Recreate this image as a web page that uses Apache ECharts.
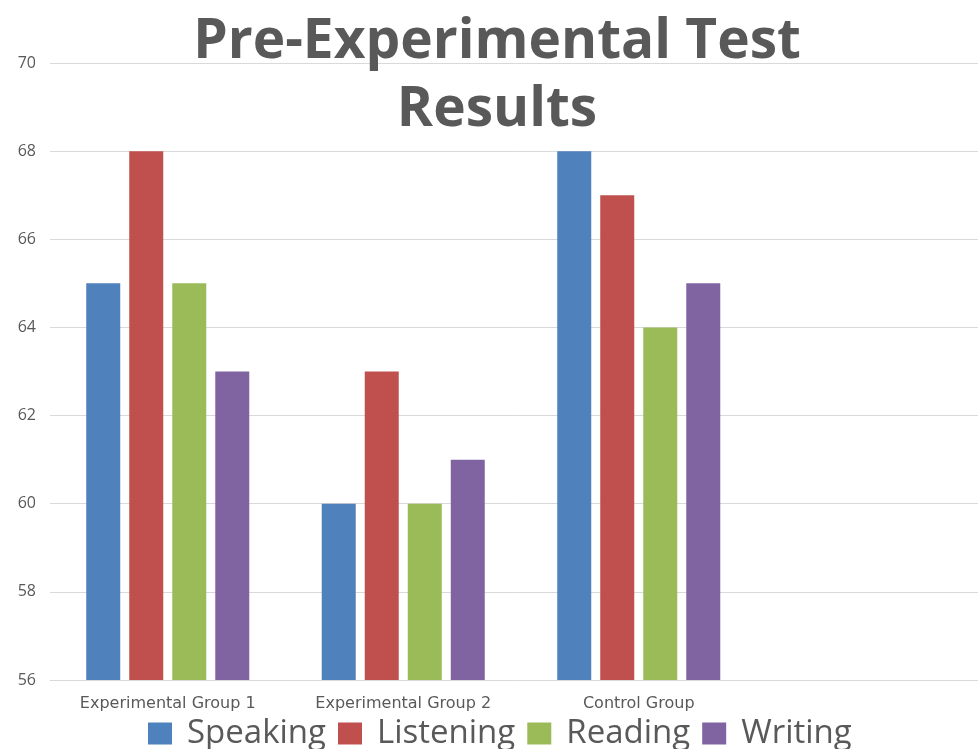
<!DOCTYPE html>
<html>
<head>
<meta charset="utf-8">
<script src="https://cdn.jsdelivr.net/npm/echarts@6/dist/echarts.min.js"></script>
<style>
  html, body { margin: 0; padding: 0; background: #fff; }
  #chart { width: 978px; height: 749px; }
</style>
</head>
<body>
<div id="chart"></div>
<script>
// categories (the last slot is empty in the original, the plot runs on to the right)
var groups = ['Experimental Group 1', 'Experimental Group 2', 'Control Group', ''];
var speaking = [65, 60, 68, null];
var listening = [68, 63, 67, null];
var reading = [65, 60, 64, null];
var writing = [63, 61, 65, null];
var seriesNames = ['Speaking', 'Listening', 'Reading', 'Writing'];
var palette = ['#4F81BD', '#C0504D', '#9BBB59', '#8064A2'];

var chart = echarts.init(document.getElementById('chart'));

var textGray = '#595959';

function bar(name, data) {
    return {
        name: name,
        type: 'bar',
        data: data,
        barWidth: 34,
        barGap: '26.5%'
    };
}

chart.setOption({
    animation: false,
    color: palette,
    title: {
        text: 'Pre-Experimental Test\nResults',
        left: 492,
        top: 3,
        textAlign: 'center',
        textStyle: {
            fontFamily: 'Open Sans',
            fontWeight: 'bold',
            fontSize: 55,
            lineHeight: 68,
            color: textGray
        }
    },
    legend: {
        data: seriesNames,
        top: 712,
        left: 143,
        itemWidth: 24,
        itemHeight: 22,
        itemGap: 12,
        icon: 'rect',
        textStyle: {
            fontFamily: 'Open Sans',
            fontSize: 33,
            color: textGray,
            padding: [0, 0, 0, 10]
        }
    },
    grid: {
        left: 50,
        top: 63,
        width: 942,
        bottom: 69,
        outerBoundsMode: 'none',
        containLabel: false
    },
    xAxis: {
        type: 'category',
        data: groups,
        axisLine: { lineStyle: { color: '#d9d9d9' } },
        axisTick: { show: false },
        axisLabel: {
            fontFamily: 'DejaVu Sans',
            fontSize: 16,
            color: textGray,
            margin: 16
        }
    },
    yAxis: {
        type: 'value',
        min: 56,
        max: 70,
        interval: 2,
        axisLine: { show: false },
        axisTick: { show: false },
        splitLine: { lineStyle: { color: '#d9d9d9' } },
        axisLabel: {
            fontFamily: 'Open Sans',
            fontSize: 16,
            color: textGray,
            margin: 14
        }
    },
    series: [
        bar(seriesNames[0], speaking),
        bar(seriesNames[1], listening),
        bar(seriesNames[2], reading),
        bar(seriesNames[3], writing)
    ]
});
</script>
</body>
</html>
